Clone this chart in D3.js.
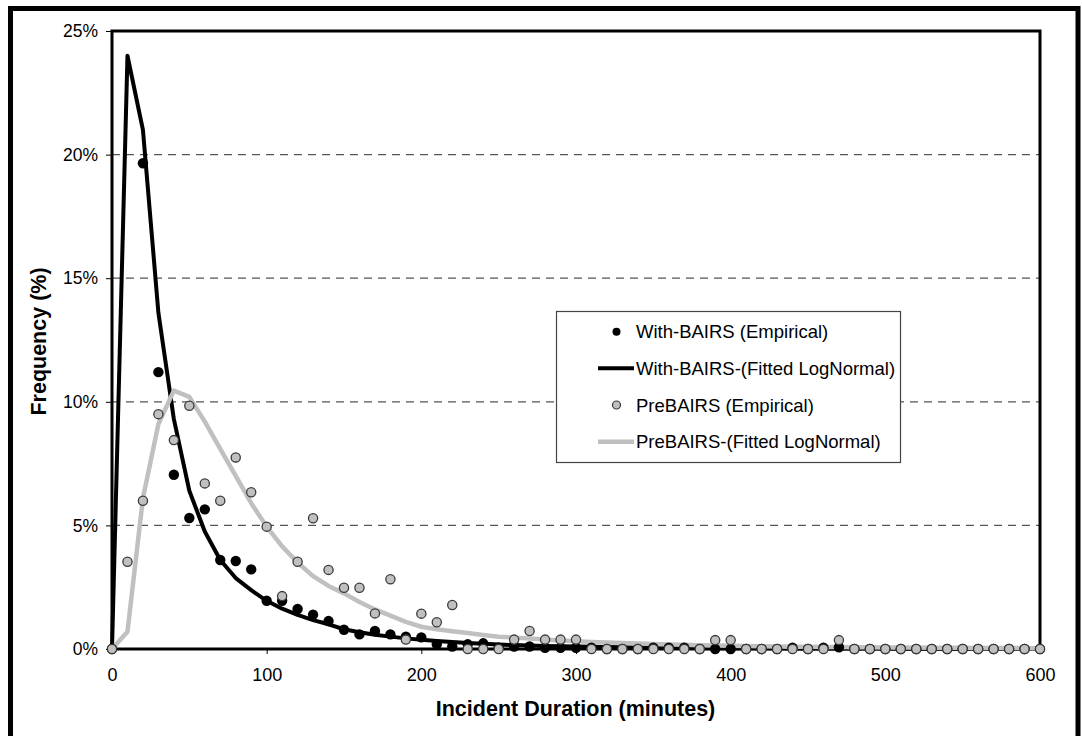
<!DOCTYPE html>
<html>
<head>
<meta charset="utf-8">
<script src="https://cdn.jsdelivr.net/npm/d3@7"></script>
<style>
  body { margin: 0; background: #fff; }
  svg { display: block; font-family: "Liberation Sans", Arial, sans-serif; }
</style>
</head>
<body>
<svg id="chart" width="1082" height="736"></svg>
<script>
// Incident duration in minutes (10-minute bins)
const durations = [
  0, 10, 20, 30, 40, 50, 60, 70, 80, 90,
  100, 110, 120, 130, 140, 150, 160, 170, 180, 190,
  200, 210, 220, 230, 240, 250, 260, 270, 280, 290,
  300, 310, 320, 330, 340, 350, 360, 370, 380, 390,
  400, 410, 420, 430, 440, 450, 460, 470, 480, 490,
  500, 510, 520, 530, 540, 550, 560, 570, 580, 590, 600
];

// Frequency (%) per bin, with BAIRS, observed
const withEmpirical = [
  0, null, 19.65, 11.2, 7.05, 5.3, 5.65, 3.6, 3.56, 3.22,
  1.95, 1.95, 1.62, 1.39, 1.13, 0.78, 0.59, 0.73, 0.59, 0.5,
  0.47, 0.19, 0.1, 0.19, 0.23, 0.05, 0.1, 0.1, 0.05, 0.05,
  0.05, 0.05, 0, 0, 0, 0.05, 0.05, 0.05, 0, 0,
  0, 0, 0, 0, 0.05, 0, 0.05, 0.07, 0, 0,
  0, 0, 0, 0, 0, 0, 0, 0, 0, 0, 0
];

// Frequency (%) per bin, with BAIRS, fitted lognormal
const withFitted = [
  0, 24.0, 21.0, 13.6, 9.3, 6.4, 4.75, 3.6, 2.87, 2.38,
  1.95, 1.63, 1.38, 1.17, 1.0, 0.8, 0.68, 0.58, 0.5, 0.43,
  0.37, 0.32, 0.28, 0.24, 0.21, 0.18, 0.16, 0.14, 0.12, 0.11,
  0.1, 0.09, 0.08, 0.07, 0.06, 0.055, 0.05, 0.045, 0.04, 0.035,
  0.03, 0.03, 0.028, 0.026, 0.024, 0.022, 0.02, 0.02, 0.018, 0.017,
  0.016, 0.015, 0.014, 0.013, 0.012, 0.012, 0.011, 0.011, 0.01, 0.01, 0.01
];

// Frequency (%) per bin, before BAIRS, observed
const preEmpirical = [
  0, 3.53, 6.0, 9.5, 8.45, 9.84, 6.7, 6.0, 7.75, 6.34,
  4.95, 2.14, 3.53, 5.29, 3.2, 2.48, 2.48, 1.44, 2.82, 0.38,
  1.43, 1.08, 1.78, 0, 0, 0, 0.38, 0.73, 0.38, 0.38,
  0.38, 0, 0, 0, 0, 0, 0, 0, 0, 0.36,
  0.36, 0, 0, 0, 0, 0, 0, 0.36, 0, 0,
  0, 0, 0, 0, 0, 0, 0, 0, 0, 0, 0
];

// Frequency (%) per bin, before BAIRS, fitted lognormal
const preFitted = [
  0, 0.7, 6.1, 9.1, 10.45, 10.2, 9.2, 8.1, 7.0, 5.9,
  4.95, 4.15, 3.5, 2.95, 2.55, 2.25, 1.9, 1.6, 1.35, 1.1,
  0.9, 0.8, 0.72, 0.65, 0.57, 0.5, 0.46, 0.42, 0.38, 0.34,
  0.31, 0.28, 0.26, 0.24, 0.22, 0.2, 0.18, 0.17, 0.15, 0.14,
  0.13, 0.12, 0.11, 0.1, 0.095, 0.09, 0.085, 0.08, 0.075, 0.07,
  0.065, 0.06, 0.057, 0.054, 0.05, 0.047, 0.044, 0.041, 0.038, 0.035, 0.033
];

const yTicks = [0, 5, 10, 15, 20, 25];
const xTicks = [0, 100, 200, 300, 400, 500, 600];
const legendLabels = [
  "With-BAIRS (Empirical)",
  "With-BAIRS-(Fitted LogNormal)",
  "PreBAIRS (Empirical)",
  "PreBAIRS-(Fitted LogNormal)"
];

const svg = d3.select("#chart");
const plot = { left: 112, right: 1040, top: 31, bottom: 649 };

const x = d3.scaleLinear().domain([0, 600]).range([plot.left, plot.right]);
const y = d3.scaleLinear().domain([0, 25]).range([plot.bottom, plot.top]);

const BLACK = "#000000";
const LIGHT = "#c0c0c0";
const RING = "#3a3a3a";

// white page with heavy outer frame
svg.append("rect").attr("width", 1082).attr("height", 736).attr("fill", "#fff");
svg.append("rect")
  .attr("x", 10.5).attr("y", 8.5).attr("width", 1067.5).attr("height", 760)
  .attr("fill", "none").attr("stroke", BLACK).attr("stroke-width", 5);

// dashed horizontal gridlines
svg.append("g")
  .selectAll("line")
  .data(yTicks.filter(d => d > 0 && d < 25))
  .join("line")
  .attr("x1", plot.left).attr("x2", plot.right)
  .attr("y1", d => y(d)).attr("y2", d => y(d))
  .attr("stroke", "#555").attr("stroke-width", 1.2)
  .attr("stroke-dasharray", "8,6");

// y axis
const yAxis = svg.append("g")
  .attr("transform", `translate(${plot.left},0)`)
  .call(d3.axisLeft(y).tickValues(yTicks).tickSize(6).tickPadding(8)
    .tickFormat(d => d + "%"));
yAxis.select(".domain").remove();
yAxis.selectAll(".tick line").attr("stroke", BLACK).attr("stroke-width", 1);
yAxis.selectAll(".tick text")
  .attr("font-size", 17.5).attr("fill", BLACK)
  .attr("font-family", "'Liberation Sans', Arial, sans-serif");

// x axis
const xAxis = svg.append("g")
  .attr("transform", `translate(0,${plot.bottom})`)
  .call(d3.axisBottom(x).tickValues(xTicks).tickSize(5).tickPadding(14));
xAxis.select(".domain").remove();
xAxis.selectAll(".tick line").attr("stroke", BLACK).attr("stroke-width", 1);
xAxis.selectAll(".tick text")
  .attr("font-size", 18).attr("fill", BLACK)
  .attr("font-family", "'Liberation Sans', Arial, sans-serif");

// plot frame: top, left, right borders plus the baseline
svg.append("path")
  .attr("d", `M${plot.left},${plot.bottom}V${plot.top}H${plot.right}V${plot.bottom}Z`)
  .attr("fill", "none").attr("stroke", BLACK).attr("stroke-width", 3);

// fitted curves
const rowsOf = vals => durations.map((d, i) => ({ d, v: vals[i] }));
const line = d3.line().x(p => x(p.d)).y(p => y(p.v));

svg.append("path")
  .datum(rowsOf(withFitted))
  .attr("d", line)
  .attr("fill", "none").attr("stroke", BLACK).attr("stroke-width", 4)
  .attr("stroke-linejoin", "round").attr("stroke-linecap", "round");

svg.append("path")
  .datum(rowsOf(preFitted))
  .attr("d", line)
  .attr("fill", "none").attr("stroke", LIGHT).attr("stroke-width", 4.5)
  .attr("stroke-linejoin", "round").attr("stroke-linecap", "round");

// observed frequencies
svg.append("g")
  .selectAll("circle")
  .data(rowsOf(withEmpirical).filter(p => p.v !== null))
  .join("circle")
  .attr("cx", p => x(p.d)).attr("cy", p => y(p.v)).attr("r", 5.2)
  .attr("fill", BLACK);

svg.append("g")
  .selectAll("circle")
  .data(rowsOf(preEmpirical).filter(p => p.v !== null))
  .join("circle")
  .attr("cx", p => x(p.d)).attr("cy", p => y(p.v)).attr("r", 4.6)
  .attr("fill", LIGHT).attr("stroke", RING).attr("stroke-width", 1.3);

// axis titles
svg.append("text")
  .attr("x", 575.5).attr("y", 715.5)
  .attr("text-anchor", "middle")
  .attr("font-size", 21.5).attr("font-weight", "bold")
  .text("Incident Duration (minutes)");

svg.append("text")
  .attr("transform", "translate(45.5,341.5) rotate(-90)")
  .attr("text-anchor", "middle")
  .attr("font-size", 21.5).attr("font-weight", "bold")
  .text("Frequency (%)");

// legend
const legend = svg.append("g");
legend.append("rect")
  .attr("x", 556.5).attr("y", 311.5).attr("width", 344).attr("height", 151)
  .attr("fill", "#fff").attr("stroke", "#444").attr("stroke-width", 1.2);

const rowY = [331.7, 368.3, 405, 441.7];
const keyX = 616.5;
const textX = 636;

legend.append("circle").attr("cx", keyX).attr("cy", rowY[0]).attr("r", 4).attr("fill", BLACK);
legend.append("line")
  .attr("x1", 598).attr("x2", 634).attr("y1", rowY[1]).attr("y2", rowY[1])
  .attr("stroke", BLACK).attr("stroke-width", 4);
legend.append("circle").attr("cx", keyX).attr("cy", rowY[2]).attr("r", 4)
  .attr("fill", LIGHT).attr("stroke", RING).attr("stroke-width", 1.2);
legend.append("line")
  .attr("x1", 598).attr("x2", 634).attr("y1", rowY[3]).attr("y2", rowY[3])
  .attr("stroke", LIGHT).attr("stroke-width", 4.5);

legend.selectAll("text.lbl")
  .data(legendLabels)
  .join("text")
  .attr("class", "lbl")
  .attr("x", textX).attr("y", (d, i) => rowY[i])
  .attr("dy", "0.36em")
  .attr("font-size", 18.5).attr("fill", BLACK)
  .text(d => d);
</script>
</body>
</html>
